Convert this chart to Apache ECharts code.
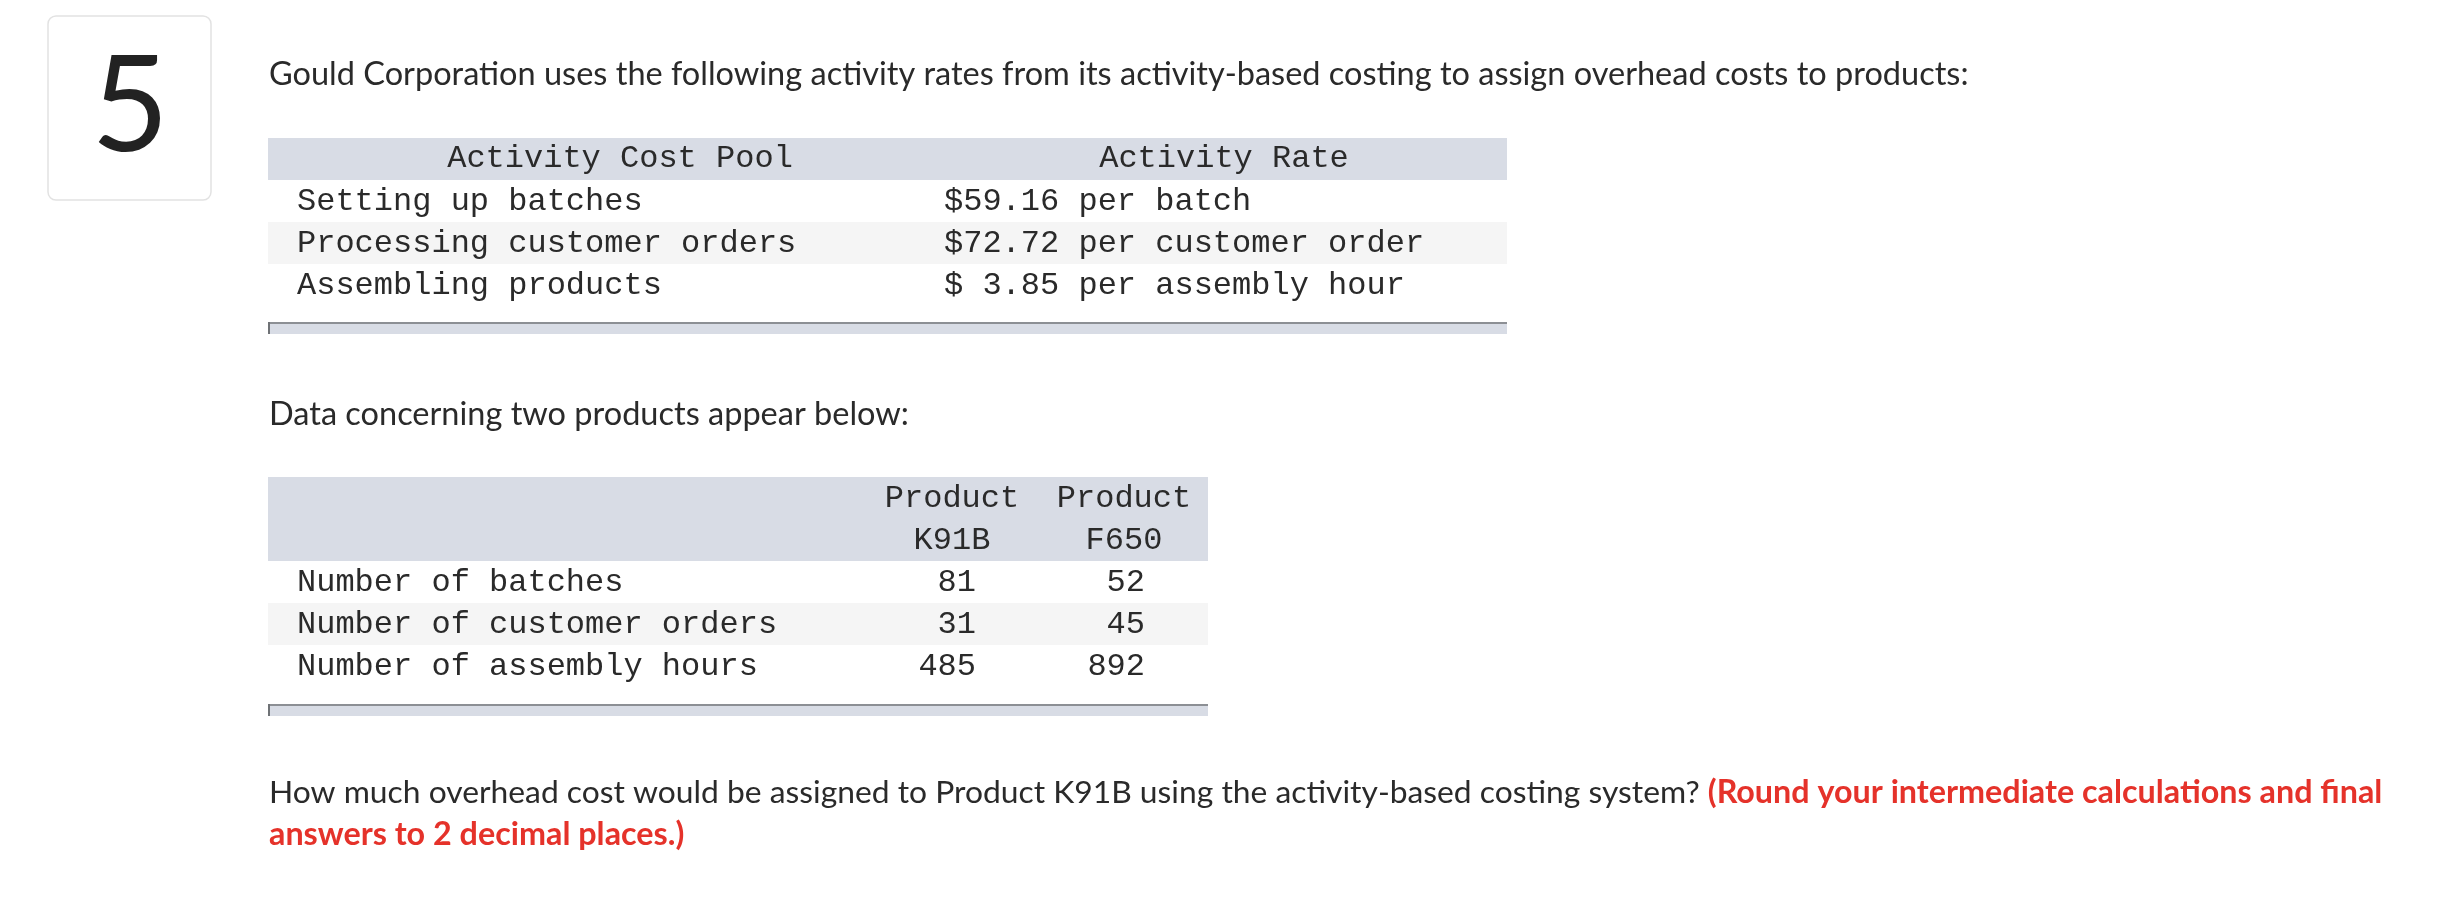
<!DOCTYPE html>
<html><head><meta charset="utf-8">
<script src="https://cdn.jsdelivr.net/npm/echarts@6/dist/echarts.min.js"></script>
<style>html,body{margin:0;padding:0;background:#fff;}#c{width:2454px;height:910px;}</style>
</head><body><div id="c"></div>
<script>
// ---- data ----
const questionNumber = '5';
const introText = 'Gould Corporation uses the following activity rates from its activity-based costing to assign overhead costs to products:';
const table1Headers = ['Activity Cost Pool', 'Activity Rate'];
const costPools = ['Setting up batches', 'Processing customer orders', 'Assembling products'];
const rateAmounts = [59.16, 72.72, 3.85];
const rateUnits = ['per batch', 'per customer order', 'per assembly hour'];
const dataIntro = 'Data concerning two products appear below:';
const productHeader = 'Product';
const productNames = ['K91B', 'F650'];
const dataCategories = ['Number of batches', 'Number of customer orders', 'Number of assembly hours'];
const valuesK91B = [81, 31, 485];
const valuesF650 = [52, 45, 892];
const questionText = 'How much overhead cost would be assigned to Product K91B using the activity-based costing system?';
const instructionLine1 = '(Round your intermediate calculations and final';
const instructionLine2 = 'answers to 2 decimal places.)';

// ---- layout ----
const SANS = 'Lato, "Noto Sans", sans-serif';
const MONO = '"Liberation Mono", "DejaVu Sans Mono", monospace';
const TXT = '#2a2a2a';
const RED = '#e5322a';
const BAND = '#d8dce5';
const ALT = '#f5f5f5';
const LINE = '#8c8f94';
const monoFont = '32px ' + MONO;
const sansFont = '32.5px ' + SANS;
const qFont = '31.8px ' + SANS;
const sansBold = '700 32.3px ' + SANS;

const g = [];
function txt(x, y, text, font, fill, align) {
  g.push({type: 'text', silent: true, style: {x: x, y: y, text: text, font: font, fill: fill || TXT,
    textAlign: align || 'left', textVerticalAlign: 'middle'}});
}
function rect(x, y, w, h, fill, extra) {
  g.push(Object.assign({type: 'rect', silent: true, shape: {x: x, y: y, width: w, height: h, r: (extra && extra.r) || 0},
    style: Object.assign({fill: fill}, (extra && extra.style) || {})}));
}

// number box
rect(48, 16, 163, 184, '#fff', {r: 8, style: {stroke: '#e2e2e2', lineWidth: 1.5}});
txt(130, 108, questionNumber, '400 134px ' + SANS, '#222', 'center');

// intro
txt(269, 75, introText, sansFont);

// table 1
const t1L = 268, t1R = 1507, t1Top = 138, rowH = 42;
rect(t1L, t1Top, t1R - t1L, rowH, BAND);
txt(620, t1Top + rowH / 2, table1Headers[0], monoFont, TXT, 'center');
txt(1224, t1Top + rowH / 2, table1Headers[1], monoFont, TXT, 'center');
costPools.forEach(function (name, i) {
  const top = t1Top + rowH * (i + 1);
  if (i % 2 === 1) rect(t1L, top, t1R - t1L, rowH, ALT);
  const cy = top + rowH / 2 + 1;
  txt(297, cy, name, monoFont);
  const amt = '$' + rateAmounts[i].toFixed(2).padStart(5, ' ');
  txt(944, cy, amt + ' ' + rateUnits[i], monoFont);
});
const t1Bot = t1Top + rowH * 4 + 16;
rect(t1L, t1Bot, t1R - t1L, 12, BAND);
rect(t1L, t1Bot, t1R - t1L, 2, LINE);
rect(t1L, t1Bot, 2, 12, '#6f7276');

// data intro
txt(269, 415, dataIntro, sansFont);

// table 2
const t2L = 268, t2R = 1208, t2Top = 477;
const colC = [952, 1124], colR = [976, 1145];
rect(t2L, t2Top, t2R - t2L, rowH * 2, BAND);
productNames.forEach(function (p, j) {
  txt(colC[j], t2Top + rowH / 2 + 1, productHeader, monoFont, TXT, 'center');
  txt(colC[j], t2Top + rowH * 1.5 + 1, p, monoFont, TXT, 'center');
});
dataCategories.forEach(function (name, i) {
  const top = t2Top + rowH * (i + 2);
  if (i % 2 === 1) rect(t2L, top, t2R - t2L, rowH, ALT);
  const cy = top + rowH / 2 + 1;
  txt(297, cy, name, monoFont);
  txt(colR[0], cy, String(valuesK91B[i]), monoFont, TXT, 'right');
  txt(colR[1], cy, String(valuesF650[i]), monoFont, TXT, 'right');
});
const t2Bot = t2Top + rowH * 5 + 17;
rect(t2L, t2Bot, t2R - t2L, 12, BAND);
rect(t2L, t2Bot, t2R - t2L, 2, LINE);
rect(t2L, t2Bot, 2, 12, '#6f7276');

// question
g.push({type: 'text', silent: true, style: {x: 269, y: 793, textVerticalAlign: 'middle',
  text: '{n|' + questionText + ' }{r|' + instructionLine1 + '}',
  rich: {n: {font: qFont, fill: TXT}, r: {font: sansBold, fill: RED}}}});
txt(269, 835, instructionLine2, sansBold, RED);

const chart = echarts.init(document.getElementById('c'), null, {renderer: 'canvas'});
chart.setOption({backgroundColor: '#fff', animation: false, graphic: {elements: g}});
</script></body></html>
